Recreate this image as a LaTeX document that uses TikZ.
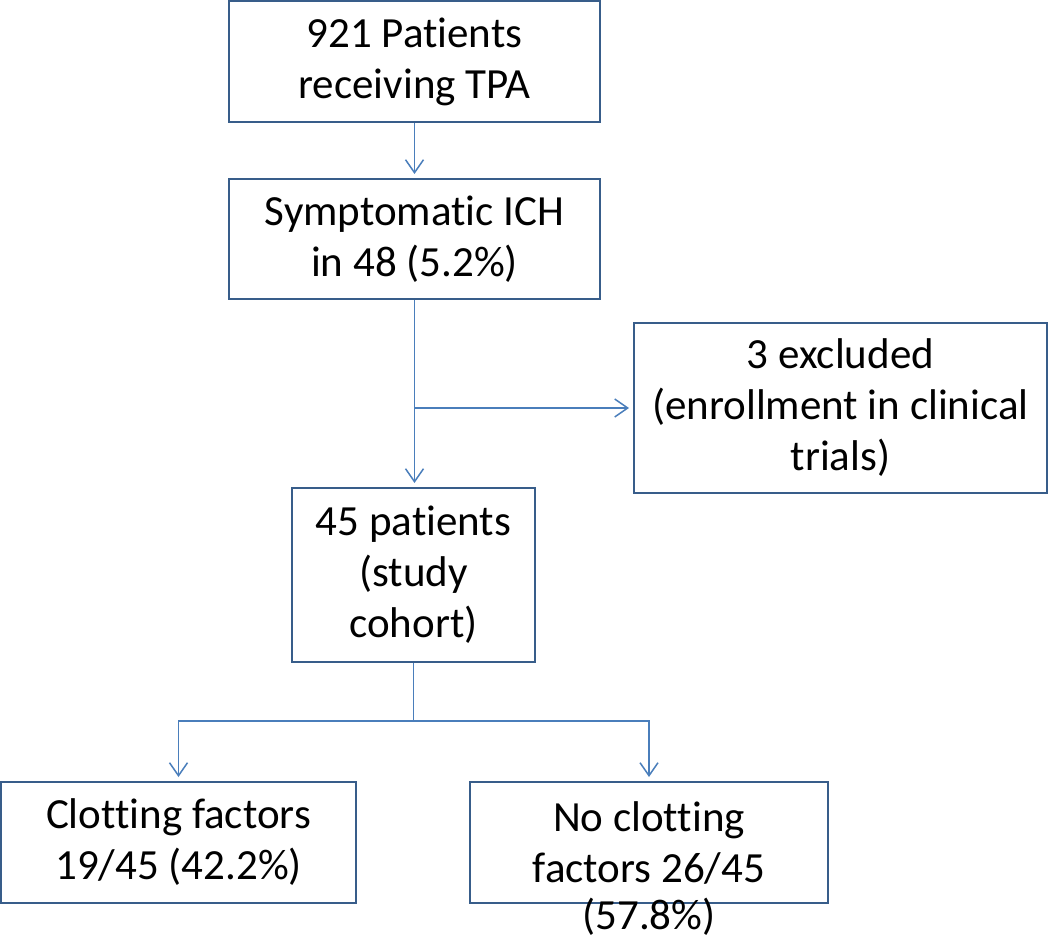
\documentclass[tikz,border=0pt]{standalone}
\usepackage{fontspec}
\setmainfont{Carlito}[Ligatures=NoCommon]
\usepackage{tikz}
\usetikzlibrary{arrows.meta,positioning}
\definecolor{boxblue}{RGB}{56,93,138}
\definecolor{lineblue}{RGB}{74,126,187}
\tikzset{font=\fontsize{43}{51}\selectfont}
\tikzstyle{box}=[draw=boxblue,line width=2pt,align=center,inner sep=0pt]
\tikzstyle{flow}=[color=lineblue,line width=1.5pt,->,>={Straight Barb[length=13pt,width=18pt]},shorten >=4pt]

\begin{document}
\begin{tikzpicture}[x=1pt,y=-1pt]
\useasboundingbox (0,0) rectangle (1050,941);
\node[box,minimum width=371pt,minimum height=121pt] (A) at (414.5,61.5) {921 Patients\\receiving TPA};
\node[box,minimum width=371pt,minimum height=120pt] (B) at (414.5,239) {Symptomatic ICH\\in 48 (5.2\%)};
\node[box,minimum width=413pt,minimum height=170pt] (C) at (840.5,408) {3 excluded\\(enrollment in clinical\\trials)};
\node[box,minimum width=243pt,minimum height=174pt] (D) at (413.5,575) {45 patients\\(study\\cohort)};
\node[box,minimum width=355pt,minimum height=121pt] (E) at (178.5,842.5) {Clotting factors\\19/45 (42.2\%)};
\node[box,minimum width=358pt,minimum height=121pt] (F) at (649,842.5) {No clotting\\factors 26/45};
\node[anchor=base,inner sep=0pt] (G) at (649,929) {(57.8\%)};
\coordinate (S) at (B.south |- C.west);
\coordinate (T) at (413.5,721);
%\node (H) at (413.5,721) {};
\path[flow]
(A) edge (B)
(B.south) edge (B.south |- D.north)
(S) edge (C.west);
\draw[flow] (D.south) -- (T) -| (E.north);
\draw[flow] (T) -| (F.north);
\end{tikzpicture}
\end{document}
